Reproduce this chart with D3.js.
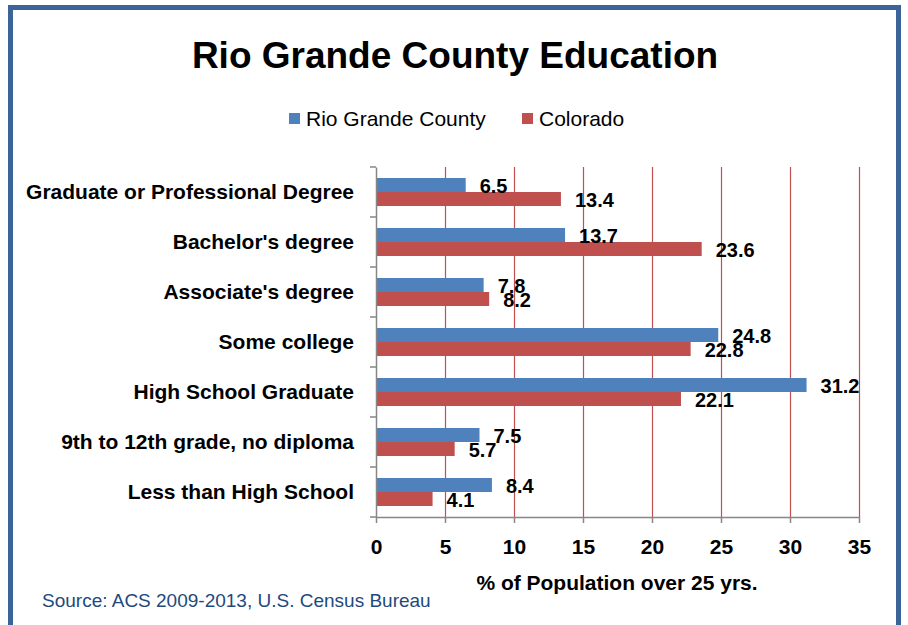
<!DOCTYPE html>
<html>
<head>
<meta charset="utf-8">
<script src="https://cdn.jsdelivr.net/npm/d3@7"></script>
<style>
  body { margin: 0; background: #fff; }
  svg { display: block; }
</style>
</head>
<body>
<svg id="chart"></svg>
<script>
// data
const categories = [
  "Graduate or Professional Degree",
  "Bachelor's degree",
  "Associate's degree",
  "Some college",
  "High School Graduate",
  "9th to 12th grade, no diploma",
  "Less than High School"
];
const seriesNames = ["Rio Grande County", "Colorado"];
const rioGrande = [6.5, 13.7, 7.8, 24.8, 31.2, 7.5, 8.4];
const colorado = [13.4, 23.6, 8.2, 22.8, 22.1, 5.7, 4.1];
const xTicks = [0, 5, 10, 15, 20, 25, 30, 35];
const colors = ["#4f81bd", "#c0504d"];

const width = 908, height = 625;
const labelFont = "'Liberation Sans Narrow', 'Arial Narrow', sans-serif";

const svg = d3.select("#chart")
    .attr("width", width)
    .attr("height", height);

// frame
svg.append("rect")
    .attr("x", 10.5).attr("y", 7.5)
    .attr("width", 888).attr("height", 640)
    .attr("fill", "none")
    .attr("stroke", "#3b6598")
    .attr("stroke-width", 5);

svg.append("text")
    .attr("x", 455).attr("y", 68)
    .attr("text-anchor", "middle")
    .attr("font-family", labelFont)
    .attr("font-weight", "bold")
    .attr("font-size", 37)
    .text("Rio Grande County Education");

// legend
const legendX = [289, 522];
seriesNames.forEach((name, i) => {
  svg.append("rect")
      .attr("x", legendX[i]).attr("y", 113)
      .attr("width", 11).attr("height", 11)
      .attr("fill", colors[i]);
  svg.append("text")
      .attr("x", legendX[i] + 17).attr("y", 126)
      .attr("font-family", labelFont)
      .attr("font-size", 21)
      .text(name);
});

const x = d3.scaleLinear()
    .domain([0, 35])
    .range([376, 859]);

const y = d3.scaleBand()
    .domain(categories)
    .range([167, 517]);

const sub = d3.scaleBand()
    .domain(seriesNames)
    .range([y.bandwidth() * 0.22, y.bandwidth() * 0.78]);

// vertical gridlines
svg.append("g")
  .selectAll("line")
  .data(xTicks.slice(1))
  .join("line")
    .attr("x1", d => Math.round(x(d)) + 0.5)
    .attr("x2", d => Math.round(x(d)) + 0.5)
    .attr("y1", 167).attr("y2", 517)
    .attr("stroke", "#c0504d")
    .attr("stroke-width", 1.2);

const rows = categories.map((c, i) => ({ cat: c, vals: [rioGrande[i], colorado[i]] }));

const groups = svg.append("g")
  .selectAll("g")
  .data(rows)
  .join("g")
    .attr("transform", d => `translate(0,${y(d.cat)})`);

groups.selectAll("rect")
  .data(d => d.vals.map((v, i) => ({ name: seriesNames[i], v, i })))
  .join("rect")
    .attr("x", x(0))
    .attr("y", d => sub(d.name))
    .attr("width", d => x(d.v) - x(0))
    .attr("height", sub.bandwidth())
    .attr("fill", d => colors[d.i]);

groups.selectAll("text.val")
  .data(d => d.vals.map((v, i) => ({ name: seriesNames[i], v, i })))
  .join("text")
    .attr("class", "val")
    .attr("x", d => x(d.v) + 14)
    .attr("y", d => sub(d.name) + sub.bandwidth() / 2 + 8)
    .attr("font-family", "'Liberation Sans', Arial, sans-serif")
    .attr("font-weight", "bold")
    .attr("font-size", 20)
    .text(d => d.v.toFixed(1));

// axes
const yAxis = svg.append("g")
    .attr("transform", `translate(${x(0)},0)`)
    .call(d3.axisLeft(y).tickSize(0).tickPadding(22).tickFormat(d => d));
yAxis.select(".domain").attr("stroke", "#868686").attr("stroke-width", 1.5);
yAxis.selectAll("text")
    .attr("font-family", labelFont)
    .attr("font-weight", "bold")
    .attr("font-size", 21)
    .attr("fill", "#000");

// category separators on the y axis
svg.append("g")
  .selectAll("line")
  .data(categories.map(c => y(c)).concat([517]))
  .join("line")
    .attr("x1", x(0) - 6).attr("x2", x(0))
    .attr("y1", d => d).attr("y2", d => d)
    .attr("stroke", "#868686")
    .attr("stroke-width", 1.5);

const xAxis = svg.append("g")
    .attr("transform", "translate(0,517)")
    .call(d3.axisBottom(x).tickValues(xTicks).tickSize(6).tickSizeOuter(0).tickPadding(16));
xAxis.select(".domain").attr("stroke", "#868686").attr("stroke-width", 1.5);
xAxis.selectAll(".tick line").attr("stroke", "#868686").attr("stroke-width", 1.5);
xAxis.selectAll("text")
    .attr("font-family", labelFont)
    .attr("font-weight", "bold")
    .attr("font-size", 21)
    .attr("fill", "#000");

svg.append("text")
    .attr("x", 617).attr("y", 590)
    .attr("text-anchor", "middle")
    .attr("font-family", labelFont)
    .attr("font-weight", "bold")
    .attr("font-size", 21)
    .text("% of Population over 25 yrs.");

svg.append("text")
    .attr("x", 42).attr("y", 607)
    .attr("font-family", labelFont)
    .attr("font-size", 19)
    .attr("fill", "#1f497d")
    .text("Source: ACS 2009-2013, U.S. Census Bureau");
</script>
</body>
</html>
